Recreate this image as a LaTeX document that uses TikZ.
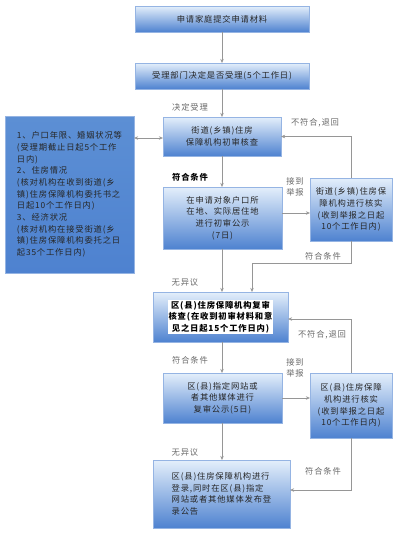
\documentclass[tikz,border=0pt]{standalone}
\usepackage{fontspec}
\setmainfont{Noto Sans CJK SC}[LetterSpace=10]
\usetikzlibrary{arrows.meta}
\definecolor{boxtop}{RGB}{228,239,251}
\definecolor{boxbot}{RGB}{78,130,208}
\definecolor{sidetop}{RGB}{92,143,212}
\definecolor{sidemid}{RGB}{185,210,240}
\definecolor{linegray}{RGB}{150,150,150}
\definecolor{labelgray}{RGB}{105,105,105}

\begin{document}
\begin{tikzpicture}[x=1pt,y=-1pt,>={Stealth[length=4pt,width=3.5pt]},
  stepbox/.style={rectangle,inner sep=0pt,top color=boxtop,bottom color=boxbot,draw=boxbot!60,very thin,align=center,text=black!85,font=\fontsize{8.3}{11.7}\selectfont},
  lbl/.style={inner sep=0pt,text=labelgray,align=center,font=\fontsize{8.3}{11.7}\selectfont},
  conn/.style={->,draw=linegray,thin}]
\useasboundingbox (0,0) rectangle (400,542);
% main column
\node[stepbox,minimum width=174,minimum height=26] (apply) at (222,19) {申请家庭提交申请材料};
\node[stepbox,minimum width=174,minimum height=26] (accept) at (222,76) {受理部门决定是否受理(5个工作日)};
\node[stepbox,minimum width=118,minimum height=39] (street) at (222,136.5) {街道(乡镇)住房\\保障机构初审核查};
\node[stepbox,minimum width=119,minimum height=62] (publicA) at (222.5,218) {在申请对象户口所\\在地、实际居住地\\进行初审公示\\(7日)};
\node[stepbox,minimum width=135,minimum height=50] (review) at (220.5,317) {};
\node[fill=white,inner sep=1pt,align=center,text=black,font=\fontsize{8.3}{11.7}\selectfont\bfseries] (reviewtext) at (review) {区(县)住房保障机构复审\\核查(在收到初审材料和意\\见之日起15个工作日内)};
\node[stepbox,minimum width=119,minimum height=50] (publicB) at (222.5,398) {区(县)指定网站或\\者其他媒体进行\\复审公示(5日)};
\node[stepbox,minimum width=137,minimum height=68,align=left] (register) at (221.5,494) {区(县)住房保障机构进行\\登录,同时在区(县)指定\\网站或者其他媒体发布登\\录公告};
% side boxes
\node[stepbox,top color=sidetop,middle color=sidemid,bottom color=boxbot,minimum width=129,minimum height=157,align=left] (items) at (69.5,194.5) {1、户口年限、婚姻状况等\\(受理期截止日起5个工作\\日内)\\2、住房情况\\(核对机构在收到街道(乡\\镇)住房保障机构委托书之\\日起10个工作日内)\\3、经济状况\\(核对机构在接受街道(乡\\镇)住房保障机构委托之日\\起35个工作日内)};
\node[stepbox,minimum width=82,minimum height=63] (checkA) at (351,209.5) {街道(乡镇)住房保\\障机构进行核实\\(收到举报之日起\\10个工作日内)};
\node[stepbox,minimum width=82,minimum height=65] (checkB) at (351,405.5) {区(县)住房保障\\机构进行核实\\(收到举报之日起\\10个工作日内)};
% labels
\node[lbl] (lblAccept) at (190,107) {决定受理};
\node[lbl,text=black,font=\fontsize{8.3}{11.7}\selectfont\bfseries] (lblPassA) at (190,177) {符合条件};
\node[lbl] (lblBackA) at (315,123) {不符合,退回};
\node[lbl] (lblReportA) at (295,187) {接到\\举报};
\node[lbl] (lblOkA) at (323,256) {符合条件};
\node[lbl] (lblNoObjA) at (185,282) {无异议};
\node[lbl] (lblBackB) at (322,335) {不符合,退回};
\node[lbl] (lblPassB) at (190,360) {符合条件};
\node[lbl] (lblReportB) at (295,368) {接到\\举报};
\node[lbl] (lblNoObjB) at (185,452) {无异议};
\node[lbl] (lblOkB) at (323,471) {符合条件};
% connectors
\draw[conn] (apply) -- (accept);
\draw[conn] (accept) -- (street);
\draw[conn,<->] ([yshift=-1.5]street.west) -- ([yshift=-1.5]street.west -| items.east);
\draw[conn] (street) -- (street.south |- publicA.north);
\draw[conn] ([yshift=5]publicA.east) -- ([yshift=5]publicA.east -| checkA.west);
\draw[conn] (checkA.north) |- (street.east);
\draw[conn] (publicA.south -| street) -- (street |- review.north);
\draw[conn] (checkA.south) -- ++(0,22) -| ([xshift=31.5]review.north);
\draw[conn] (checkB.north) |- ([yshift=-2]review.east);
\draw[conn] (review.south -| publicB.south) ++(-0.5,0) -- ([xshift=-0.5]publicB.north);
\draw[conn] (publicB.east) -- (publicB.east -| checkB.west);
\draw[conn] ([xshift=-0.5]publicB.south) -- ([xshift=-0.5]publicB.south |- register.north);
\draw[conn] (checkB.south) |- ([yshift=4]register.east);
\end{tikzpicture}
\end{document}
